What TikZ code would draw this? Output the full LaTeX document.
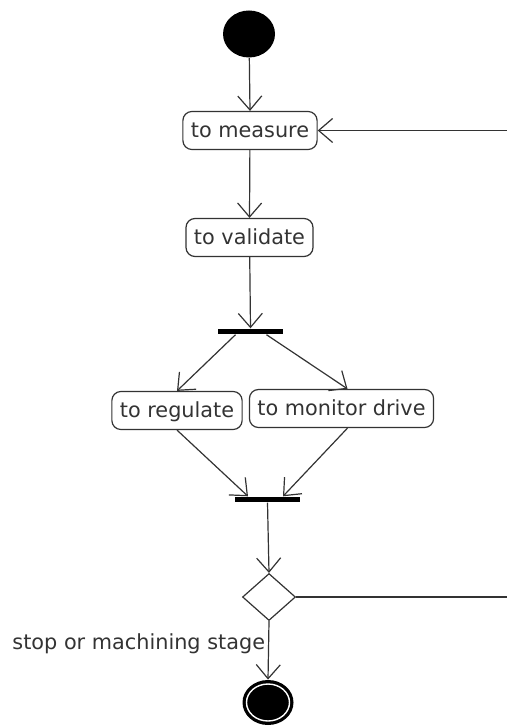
\documentclass[tikz,border=0pt]{standalone}
\usepackage{fontspec}
\setmainfont{DejaVu Sans}
\usetikzlibrary{arrows.meta,shapes.geometric,positioning,calc}
\usepackage{xcolor}

\definecolor{umlline}{gray}{0.2}
\tikzset{
	flow/.style={draw=umlline, line width=0.6pt, -{Straight Barb[length=7pt,width=12pt]}},
	activity/.style={draw=umlline, line width=0.6pt, rounded corners=4.5pt, inner xsep=4pt,
		minimum height=19pt, text height=1.6ex, text depth=0.4ex, text=umlline,
		font=\fontsize{10.4}{12}\selectfont},
	syncbar/.style={fill=black, inner sep=0pt, minimum width=32.5pt, minimum height=2.8pt},
}

\begin{document}
\begin{tikzpicture}[x=0.5pt,y=-0.5pt]
		\useasboundingbox (0,0) rectangle (507,727);
		\clip (0,0) rectangle (507,727);
		\def\loopx{515}

		\node[ellipse, fill=black, inner sep=0pt, minimum width=26pt, minimum height=23.5pt] (start) at (249,34) {};
		\node[activity] (measure) at (250,130.5) {to measure};
		\node[activity] (validate) at (249.5,237.5) {to validate};
		\node[syncbar] (fork) at (250.5,331.5) {};
		\node[activity] (regulate) at (177,410.5) {to regulate};
		\node[activity] (monitor) at (341.5,408.5) {to monitor drive};
		\node[syncbar] (join) at (267.5,499.5) {};
		\node[diamond, draw=umlline, line width=0.6pt, inner sep=0pt, minimum width=26.5pt, minimum height=23.5pt] (decision) at (269,597) {};
		\node[ellipse, fill=black, inner sep=0pt, minimum width=25.5pt, minimum height=22.5pt] (stop) at (268,702.5) {};
		\node[ellipse, draw=white, line width=0.7pt, inner sep=0pt, minimum width=21.5pt, minimum height=18.5pt] (stopring) at (stop) {};

		\coordinate (loopB) at (\loopx,597);
		\coordinate (loopT) at (\loopx,130.5);

		\draw[flow] (start) -- (measure.north);
		\draw[flow] (measure) -- (validate.north);
		\draw[flow] (validate) -- (fork.north);
		\draw[flow] ([xshift=-7.5pt]fork.south) -- (regulate.north);
		\draw[flow] ([xshift=8pt]fork.south) -- ([xshift=3pt]monitor.north);
		\draw[flow] (regulate.south) -- ([xshift=-9.75pt]join.north);
		\draw[flow] ([xshift=3pt]monitor.south) -- ([xshift=7.75pt]join.north);
		\draw[flow] (join.south) -- (decision.north);
		\draw[flow] (decision.south) -- node[pos=0.38, left, inner sep=1.5pt, text=umlline, font=\fontsize{10.4}{12}\selectfont]{stop or machining stage} (stop.north);
		\draw[flow] (decision.east) -- (loopB) -- (loopT) -- (measure.east);
\end{tikzpicture}
\end{document}
